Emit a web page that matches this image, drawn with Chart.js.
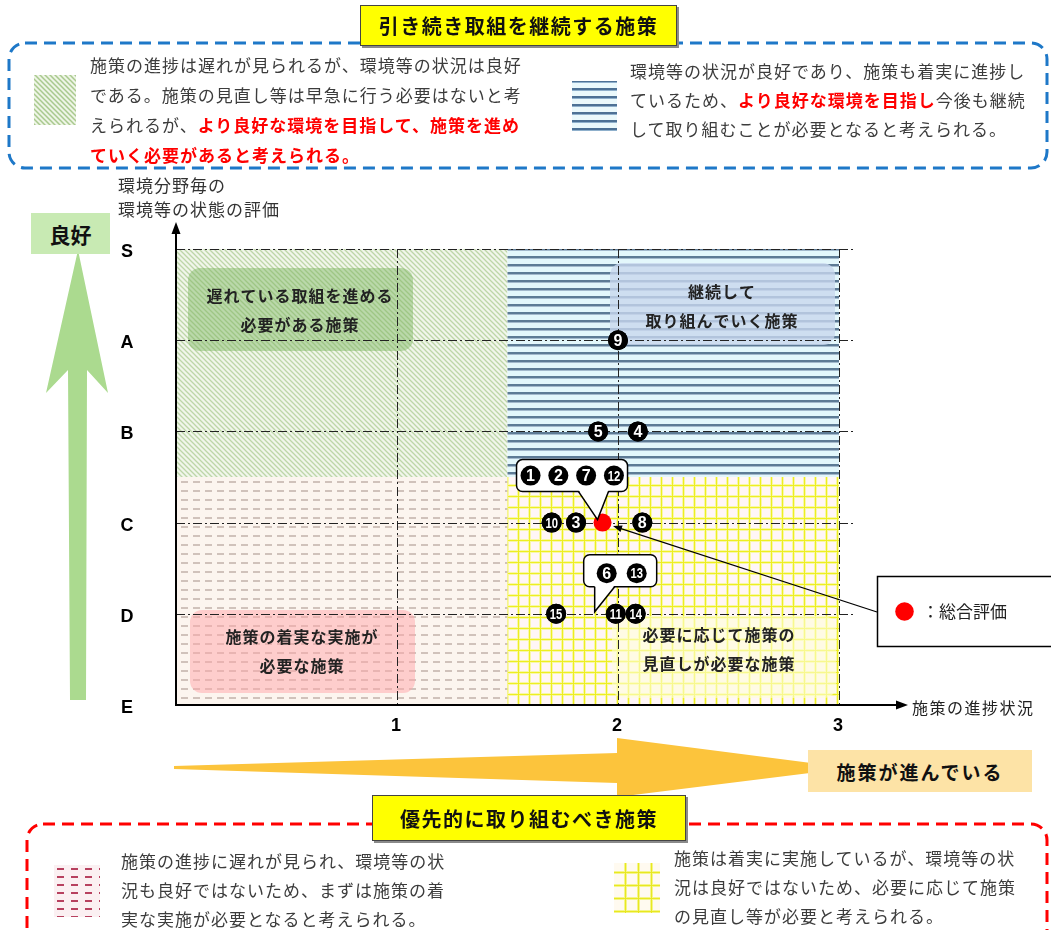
<!DOCTYPE html>
<html lang="ja">
<head>
<meta charset="UTF-8">
<title>施策の進捗状況と環境等の状態の評価</title>
<script src="https://cdn.jsdelivr.net/npm/chart.js"></script>
<style>
    * { margin: 0; padding: 0; box-sizing: border-box; }
    body { background: #fff; font-family: 'Noto Sans CJK JP', sans-serif; color: #3a3a3a; }
    #wrap { position: relative; width: 1051px; height: 930px; overflow: hidden; }
    #chart { position: absolute; left: 0; top: 0; }
    .txt { position: absolute; font-size: 17px; letter-spacing: 1px; white-space: nowrap; color: #3c3c3c; }
    .red { color: #ff0000; font-weight: bold; }
    .title {
        position: absolute; background: #ffff00; border: 1px solid #444;
        box-shadow: 2px 2px 0 #8a8a8a; font-weight: bold; font-size: 20px;
        letter-spacing: 1.5px; color: #111; display: flex; align-items: center; justify-content: center;
    }
    .tag { position: absolute; font-weight: bold; display: flex; align-items: center; justify-content: center; color: #111; }
</style>
</head>
<body>
<div id="wrap">
    <canvas id="chart" width="1051" height="930"></canvas>

    <!-- 上の枠 -->
    <div class="title" style="left:360px;top:5px;width:317px;height:41px;">引き続き取組を継続する施策</div>
    <div class="txt" style="left:90px;top:50px;line-height:30px;">
        <div>施策の進捗は遅れが見られるが、環境等の状況は良好</div>
        <div>である。施策の見直し等は早急に行う必要はないと考</div>
        <div>えられるが、<span class="red">より良好な環境を目指して、施策を進め</span></div>
        <div><span class="red">ていく必要があると考えられる。</span></div>
    </div>
    <div class="txt" style="left:630px;top:55.5px;line-height:29px;">
        <div>環境等の状況が良好であり、施策も着実に進捗し</div>
        <div>ているため、<span class="red">より良好な環境を目指し</span>今後も継続</div>
        <div>して取り組むことが必要となると考えられる。</div>
    </div>

    <!-- 軸の見出し -->
    <div class="txt" style="left:118px;top:173px;line-height:24px;color:#333;">
        <div>環境分野毎の</div>
        <div>環境等の状態の評価</div>
    </div>
    <div class="txt" style="left:912px;top:695px;line-height:24px;font-size:16px;letter-spacing:1.5px;color:#222;">施策の進捗状況</div>

    <div class="tag" style="left:31px;top:213px;width:79px;height:41px;font-size:21px;background:#c8eab3;">良好</div>
    <div class="tag" style="left:808px;top:750px;width:224px;height:42px;font-size:19px;letter-spacing:2px;background:#fde3a6;">施策が進んでいる</div>

    <!-- 下の枠 -->
    <div class="title" style="left:372px;top:795px;width:314px;height:46px;">優先的に取り組むべき施策</div>
    <div class="txt" style="left:121px;top:845.5px;line-height:29px;">
        <div>施策の進捗に遅れが見られ、環境等の状</div>
        <div>況も良好ではないため、まずは施策の着</div>
        <div>実な実施が必要となると考えられる。</div>
    </div>
    <div class="txt" style="left:674px;top:842.5px;line-height:29px;">
        <div>施策は着実に実施しているが、環境等の状</div>
        <div>況は良好ではないため、必要に応じて施策</div>
        <div>の見直し等が必要と考えられる。</div>
    </div>
</div>

<script>
    // 評価軸 (y = 0..5)
    const gradeLabels = ['E', 'D', 'C', 'B', 'A', 'S'];
    const progressTicks = [1, 2, 3];

    // 分野ごとの評価
    const pointNames = ['9', '5', '4', '10', '3', '8', '15', '11', '14'];
    const pointProgress = [2.00, 1.91, 2.09, 1.70, 1.81, 2.11, 1.72, 1.99, 2.08];
    const pointGrade = [4, 3, 3, 2, 2, 2, 1, 1, 1];

    // 吹き出しにまとめた分野
    const groupNames = [['1', '2', '7', '12'], ['6', '13']];
    const groupProgress = [1.93, 1.89];
    const groupGrade = [2, 1];

    // 総合評価
    const overallProgress = [1.93];
    const overallGrade = [2];

    // 区分の境目
    const splitProgress = 1.5;
    const splitGrade = 2.5;

    function rr(ctx, x, y, w, h, r) {
        ctx.beginPath();
        ctx.moveTo(x + r, y);
        ctx.arcTo(x + w, y, x + w, y + h, r);
        ctx.arcTo(x + w, y + h, x, y + h, r);
        ctx.arcTo(x, y + h, x, y, r);
        ctx.arcTo(x, y, x + w, y, r);
        ctx.closePath();
    }

    function poly(ctx, pts) {
        ctx.beginPath();
        pts.forEach((p, i) => i ? ctx.lineTo(p[0], p[1]) : ctx.moveTo(p[0], p[1]));
        ctx.closePath();
    }

    function tile(w, h, draw) {
        const c = document.createElement('canvas');
        c.width = w; c.height = h;
        draw(c.getContext('2d'), w, h);
        return c;
    }

    function diagTile(bg, fg, s, lw) {
        return tile(s, s, (g, w, h) => {
            g.fillStyle = bg; g.fillRect(0, 0, w, h);
            g.strokeStyle = fg; g.lineWidth = lw;
            g.beginPath();
            g.moveTo(-1, -1); g.lineTo(w + 1, h + 1);
            g.moveTo(-1, h - 1); g.lineTo(1, h + 1);
            g.moveTo(w - 1, -1); g.lineTo(w + 1, 1);
            g.stroke();
        });
    }

    function stripeTile(bg, dark, light, h) {
        return tile(4, h, (g, w) => {
            g.fillStyle = bg; g.fillRect(0, 0, w, h);
            g.fillStyle = dark; g.fillRect(0, 0, w, 2);
            g.fillStyle = light; g.fillRect(0, 2, w, 1);
        });
    }

    function gridTile(bg, soft, line, s) {
        return tile(s, s, (g, w, h) => {
            g.fillStyle = bg; g.fillRect(0, 0, w, h);
            g.fillStyle = soft; g.fillRect(0, 0, 3, h); g.fillRect(0, 0, w, 3);
            g.fillStyle = line; g.fillRect(1, 0, 1, h); g.fillRect(0, 1, w, 1);
        });
    }

    function dashTile(bg, fg, w, h, dw) {
        return tile(w, h, (g) => {
            g.fillStyle = bg; g.fillRect(0, 0, w, h);
            g.fillStyle = fg; g.fillRect(1, Math.floor(h / 2), dw, 2);
        });
    }

    const tiles = {
        green: diagTile('#f1f6eb', '#bdd6a8', 5, 1.3),
        blue: stripeTile('#e3f7fb', '#5d7b95', '#a3b9cc', 8),
        yellow: gridTile('#fff6f7', '#f8f8a8', '#eeee22', 11),
        red: dashTile('#fcf5ef', '#d0c2bb', 12, 9, 7),
        greenSw: diagTile('#eef5e6', '#a9c98e', 5, 1.5),
        blueSw: stripeTile('#eaf9fc', '#4d7195', '#8fb0cc', 8),
        yellowSw: gridTile('#fffaf0', '#f5f58a', '#e8e820', 13),
        redSw: dashTile('#fbf0f2', '#b7415f', 14, 8, 7)
    };

    function fillPat(ctx, key, x, y, w, h) {
        ctx.fillStyle = ctx.createPattern(tiles[key], 'repeat');
        ctx.fillRect(x, y, w, h);
    }

    function circNum(ctx, x, y, label) {
        ctx.fillStyle = '#000';
        ctx.beginPath(); ctx.arc(x, y, 10, 0, Math.PI * 2); ctx.fill();
        ctx.save();
        ctx.translate(x, y + 1);
        ctx.fillStyle = '#fff';
        ctx.textAlign = 'center'; ctx.textBaseline = 'middle';
        if (label.length > 1) {
            ctx.scale(0.75, 1);
            ctx.font = 'bold 15px "Liberation Sans", Arial';
        } else {
            ctx.font = 'bold 16px "Liberation Sans", Arial';
        }
        ctx.fillText(label, 0, 0);
        ctx.restore();
    }

    // 吹き出しの形 (基準点からの相対位置)
    const calloutLayout = [
        { box: [-86, -63, 111, 32], tail: [-24, 6, -5, -3], numY: -47, numX: -72, step: 27.8 },
        { box: [-10, -59, 73, 32], tail: [1, 21, 1, -2], numY: -40.5, numX: 13, step: 30 }
    ];

    const deco = {
        id: 'deco',
        beforeDraw(chart) {
            const ctx = chart.ctx;
            ctx.save();
            // 点線の枠
            ctx.lineWidth = 3;
            ctx.setLineDash([12, 7]);
            ctx.strokeStyle = '#1e78c8';
            rr(ctx, 9, 43, 1038, 125, 16); ctx.stroke();
            ctx.strokeStyle = '#ff0000';
            rr(ctx, 27, 824, 1020, 200, 16); ctx.stroke();
            ctx.setLineDash([]);

            // 凡例の見本
            fillPat(ctx, 'greenSw', 34, 75, 42, 50);
            fillPat(ctx, 'blueSw', 572, 81, 45, 50);
            fillPat(ctx, 'redSw', 54, 865, 46, 52);
            fillPat(ctx, 'yellowSw', 614, 863, 46, 50);

            // 矢印
            ctx.fillStyle = '#abda8f';
            poly(ctx, [[78, 250], [108, 393], [87, 370], [86, 700], [70, 700], [68, 370], [46, 393]]);
            ctx.fill();
            ctx.fillStyle = '#fcc43c';
            poly(ctx, [[174, 766], [617, 753], [617, 738], [850, 768], [617, 797], [617, 783], [174, 769]]);
            ctx.fill();
            ctx.restore();
        },
        beforeDatasetsDraw(chart) {
            const ctx = chart.ctx;
            const X = chart.scales.x, Y = chart.scales.y;
            const x0 = X.getPixelForValue(0), xs = X.getPixelForValue(splitProgress), x3 = X.getPixelForValue(3);
            const y0 = Y.getPixelForValue(0), ys = Y.getPixelForValue(splitGrade), y5 = Y.getPixelForValue(5);
            ctx.save();

            // 区分の塗り
            fillPat(ctx, 'green', x0, y5, xs - x0, ys - y5);
            fillPat(ctx, 'blue', xs, y5, x3 - xs, ys - y5);
            fillPat(ctx, 'red', x0, ys, xs - x0, y0 - ys);
            fillPat(ctx, 'yellow', xs, ys, x3 - xs, y0 - ys);

            // 区分の見出しの下地
            ctx.fillStyle = 'rgba(120, 180, 90, 0.45)';
            rr(ctx, 188, 268, 225, 83, 12); ctx.fill();
            ctx.fillStyle = 'rgba(200, 215, 238, 0.8)';
            rr(ctx, 610, 263, 225, 82, 12); ctx.fill();
            ctx.fillStyle = 'rgba(255, 165, 170, 0.5)';
            rr(ctx, 190, 610, 225, 83, 12); ctx.fill();
            ctx.fillStyle = 'rgba(255, 255, 215, 0.6)';
            rr(ctx, 612, 616, 224, 82, 12); ctx.fill();

            // 補助線
            ctx.strokeStyle = '#222';
            ctx.lineWidth = 1;
            ctx.setLineDash([9, 3, 2, 3]);
            for (let g = 1; g <= 5; g++) {
                const y = Math.round(Y.getPixelForValue(g)) + 0.5;
                ctx.beginPath(); ctx.moveTo(x0, y); ctx.lineTo(x3 + 17, y); ctx.stroke();
            }
            progressTicks.forEach(v => {
                const x = Math.round(X.getPixelForValue(v)) + 0.5;
                ctx.beginPath(); ctx.moveTo(x, y5); ctx.lineTo(x, y0); ctx.stroke();
            });
            ctx.setLineDash([]);

            // 区分の見出し
            ctx.fillStyle = '#222';
            ctx.font = 'bold 16px "Noto Sans CJK JP"';
            ctx.letterSpacing = '1px';
            ctx.textAlign = 'center'; ctx.textBaseline = 'middle';
            [['遅れている取組を進める', 300, 296], ['必要がある施策', 300, 325],
             ['継続して', 722, 292], ['取り組んでいく施策', 722, 321],
             ['施策の着実な実施が', 302, 637], ['必要な施策', 302, 666],
             ['必要に応じて施策の', 719, 635], ['見直しが必要な施策', 719, 664]
            ].forEach(t => ctx.fillText(t[0], t[1], t[2]));
            ctx.letterSpacing = '0px';

            // 軸
            ctx.strokeStyle = '#000';
            ctx.fillStyle = '#000';
            ctx.lineWidth = 2;
            ctx.beginPath(); ctx.moveTo(x0, y0); ctx.lineTo(x0, 232); ctx.stroke();
            poly(ctx, [[x0, 222], [x0 + 4.5, 234], [x0 - 4.5, 234]]); ctx.fill();
            ctx.beginPath(); ctx.moveTo(x0 - 1, y0); ctx.lineTo(898, y0); ctx.stroke();
            poly(ctx, [[908, y0], [896, y0 - 4.5], [896, y0 + 4.5]]); ctx.fill();

            // 目盛りの文字
            ctx.font = 'bold 18px "Liberation Sans", Arial';
            gradeLabels.forEach((lab, i) => ctx.fillText(lab, 127, Y.getPixelForValue(i) + 3));
            progressTicks.forEach(v => ctx.fillText(String(v), X.getPixelForValue(v) - 1, y0 + 21));
            ctx.restore();
        },
        afterDatasetsDraw(chart) {
            const ctx = chart.ctx;
            const X = chart.scales.x, Y = chart.scales.y;
            ctx.save();

            // 点の番号
            chart.getDatasetMeta(0).data.forEach((el, i) => circNum(ctx, el.x, el.y, pointNames[i]));

            // 吹き出し
            groupNames.forEach((names, i) => {
                const ax = X.getPixelForValue(groupProgress[i]);
                const ay = Y.getPixelForValue(groupGrade[i]);
                const L = calloutLayout[i];
                const bx = ax + L.box[0], by = ay + L.box[1], bw = L.box[2], bh = L.box[3];
                const t1 = ax + L.tail[0], t2 = ax + L.tail[1], tx = ax + L.tail[2], ty = ay + L.tail[3];
                ctx.lineWidth = 1.5;
                ctx.strokeStyle = '#000';
                ctx.fillStyle = '#fff';
                rr(ctx, bx, by, bw, bh, 6); ctx.fill(); ctx.stroke();
                poly(ctx, [[t1, by + bh - 1.5], [t2, by + bh - 1.5], [tx, ty]]); ctx.fill();
                ctx.beginPath();
                ctx.moveTo(t1, by + bh); ctx.lineTo(tx, ty); ctx.lineTo(t2, by + bh);
                ctx.stroke();
                names.forEach((n, k) => circNum(ctx, ax + L.numX + k * L.step, ay + L.numY, n));
            });

            // 総合評価の凡例と引き出し線
            const dot = chart.getDatasetMeta(1).data[0];
            const sx = 877, sy = 612;
            const dx = sx - dot.x, dy = sy - dot.y, len = Math.hypot(dx, dy);
            const ux = dx / len, uy = dy / len;
            const ex = dot.x + ux * 11, ey = dot.y + uy * 11;
            ctx.strokeStyle = '#000'; ctx.fillStyle = '#000'; ctx.lineWidth = 1.2;
            ctx.beginPath(); ctx.moveTo(sx, sy); ctx.lineTo(ex + ux * 6, ey + uy * 6); ctx.stroke();
            poly(ctx, [[ex, ey], [ex + ux * 9 - uy * 3.5, ey + uy * 9 + ux * 3.5], [ex + ux * 9 + uy * 3.5, ey + uy * 9 - ux * 3.5]]);
            ctx.fill();

            ctx.fillStyle = '#fff';
            ctx.fillRect(877.5, 576.5, 180, 70);
            ctx.lineWidth = 1.5;
            ctx.strokeRect(877.5, 576.5, 180, 70);
            ctx.fillStyle = '#ff0000';
            ctx.beginPath(); ctx.arc(904.5, 611.5, 9.3, 0, Math.PI * 2); ctx.fill();
            ctx.fillStyle = '#222';
            ctx.font = '17px "Noto Sans CJK JP"';
            ctx.textAlign = 'left'; ctx.textBaseline = 'middle';
            ctx.fillText('：総合評価', 922, 612);
            ctx.restore();
        }
    };

    const ctx = document.getElementById('chart').getContext('2d');
    new Chart(ctx, {
        type: 'scatter',
        data: {
            datasets: [
                {
                    label: '分野ごとの評価',
                    data: pointProgress.map((x, i) => ({ x: x, y: pointGrade[i] })),
                    backgroundColor: '#000',
                    borderWidth: 0,
                    pointRadius: 10,
                    pointHoverRadius: 10
                },
                {
                    label: '総合評価',
                    data: overallProgress.map((x, i) => ({ x: x, y: overallGrade[i] })),
                    backgroundColor: '#ff0000',
                    borderWidth: 0,
                    pointRadius: 9,
                    pointHoverRadius: 9
                }
            ]
        },
        options: {
            responsive: false,
            animation: false,
            clip: false,
            layout: { padding: { left: 176, right: 212, top: 249, bottom: 225 } },
            scales: {
                x: { type: 'linear', min: 0, max: 3, display: false },
                y: { type: 'linear', min: 0, max: 5, display: false }
            },
            plugins: {
                legend: { display: false },
                tooltip: { enabled: false }
            }
        },
        plugins: [deco]
    });
</script>
</body>
</html>
